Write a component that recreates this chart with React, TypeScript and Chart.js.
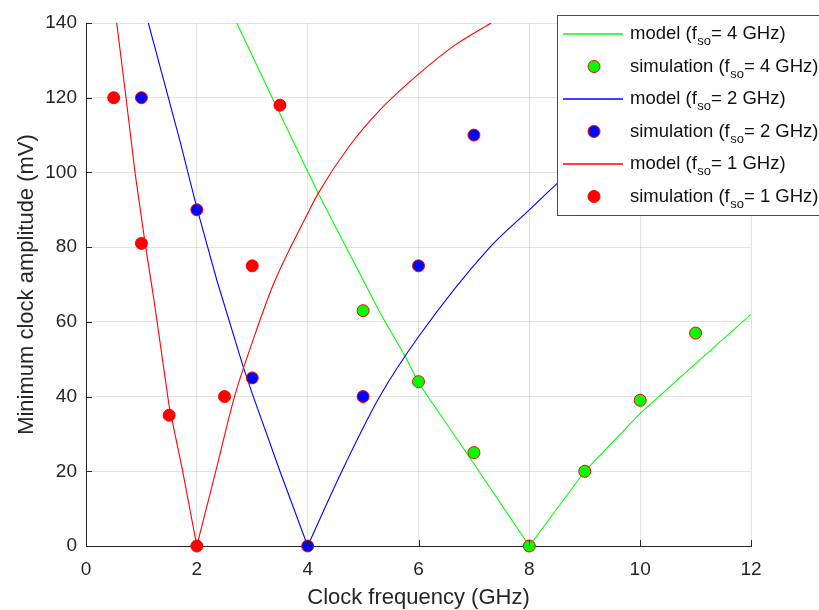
import React, { useEffect, useRef } from "react";
import { Chart, registerables } from "chart.js";

Chart.register(...registerables);

const FONT = '"Liberation Sans", Arial, Helvetica, sans-serif';
const AXIS_COLOR = "#262626";

// Axis ticks
const xTickValues = [0, 2, 4, 6, 8, 10, 12];
const yTickValues = [0, 20, 40, 60, 80, 100, 120, 140];

// Simulation results (clock frequency in GHz, amplitude in mV)
const simFreq4 = [5, 6, 7, 8, 9, 10, 11];
const simAmp4 = [63, 44, 25, 0, 20, 39, 57];
const simFreq2 = [1, 2, 3, 4, 5, 6, 7];
const simAmp2 = [120, 90, 45, 0, 40, 75, 110];
const simFreq1 = [0.5, 1, 1.5, 2, 2.5, 3, 3.5];
const simAmp1 = [120, 81, 35, 0, 40, 75, 118];

// Model curves, each split at its zero into a falling and a rising branch
const model4FallFreq = [2.72, 3.38, 4.19, 5.0, 5.31, 5.77, 6.0, 7.0, 8.0];
const model4FallAmp = [140, 119.4, 94.4, 71.2, 62.3, 50.5, 43.7, 22, 0];
const model4RiseFreq = [8, 9, 10, 11, 12];
const model4RiseAmp = [0, 20, 35.5, 48.8, 62];

const model2FallFreq = [1.125, 1.7, 2.0, 2.36, 2.84, 3.0, 3.5, 4.0];
const model2FallAmp = [140, 108.2, 90.5, 71.2, 47.8, 40.8, 20, 0];
const model2RiseFreq = [4.0, 4.6, 5.28, 6.0, 7.29, 8.0, 8.5, 9.0, 10.0];
const model2RiseAmp = [0, 19.5, 39.5, 56, 80, 90, 97, 103.5, 115];

const model1FallFreq = [0.554, 0.722, 0.884, 1.077, 1.227, 1.5, 1.745, 2.0];
const model1FallAmp = [140, 120, 100, 80, 65.8, 37.5, 20, 0];
const model1RiseFreq = [2.0, 2.35, 2.68, 3.0, 3.38, 4.0, 4.19, 4.75, 5.31, 6.0, 6.65, 7.31];
const model1RiseAmp = [0, 20.5, 40, 54.5, 70, 89, 94.4, 107, 116.8, 126.3, 134, 140];

const GREEN = "#00ff00";
const BLUE = "#0000ff";
const RED = "#ff0000";

// Legend rows: model line or simulation marker for each f_so
const legendKinds = ["line", "marker", "line", "marker", "line", "marker"];
const legendColors = [GREEN, GREEN, BLUE, BLUE, RED, RED];
const legendPrefixes = ["model (f", "simulation (f", "model (f", "simulation (f", "model (f", "simulation (f"];
const legendSuffixes = ["= 4 GHz)", "= 4 GHz)", "= 2 GHz)", "= 2 GHz)", "= 1 GHz)", "= 1 GHz)"];

const toPoints = (xs: number[], ys: number[]) => xs.map((x, i) => ({ x, y: ys[i] }));

const simDataset = (xs: number[], ys: number[], fill: string) => ({
  data: toPoints(xs, ys),
  showLine: false,
  pointRadius: 6,
  pointBackgroundColor: fill,
  pointBorderColor: RED,
  pointBorderWidth: 1,
  clip: false as const,
});

const modelDataset = (xs: number[], ys: number[], color: string, smooth = false) => ({
  data: toPoints(xs, ys),
  showLine: true,
  borderColor: color,
  borderWidth: 1.1,
  pointRadius: 0,
  tension: 0,
  cubicInterpolationMode: smooth ? ("monotone" as const) : ("default" as const),
  fill: false,
});

// Tick marks drawn on the inside of the left and bottom axes
const innerTicksPlugin = {
  id: "innerTicks",
  afterDatasetsDraw(chart: any) {
    const { ctx, chartArea, scales } = chart;
    ctx.save();
    ctx.strokeStyle = AXIS_COLOR;
    ctx.lineWidth = 1;
    ctx.beginPath();
    for (const v of xTickValues) {
      const px = Math.round(scales.x.getPixelForValue(v)) + 0.5;
      ctx.moveTo(px, chartArea.bottom);
      ctx.lineTo(px, chartArea.bottom - 6);
    }
    for (const v of yTickValues) {
      const py = Math.round(scales.y.getPixelForValue(v)) + 0.5;
      ctx.moveTo(chartArea.left, py);
      ctx.lineTo(chartArea.left + 6, py);
    }
    ctx.stroke();
    ctx.restore();
  },
};

// Boxed legend with subscripted labels
const boxLegendPlugin = {
  id: "boxLegend",
  afterDraw(chart: any) {
    const ctx = chart.ctx;
    ctx.save();
    const left = 557.5;
    const top = 15.5;
    const width = 300;
    const height = 200;
    ctx.fillStyle = "#ffffff";
    ctx.fillRect(left, top, width, height);
    ctx.strokeStyle = "#4a4a4a";
    ctx.lineWidth = 1;
    ctx.strokeRect(left, top, width, height);

    const mainFont = `18.5px ${FONT}`;
    const subFont = `13px ${FONT}`;
    for (let i = 0; i < legendKinds.length; i++) {
      const rowY = 34 + i * 32.5;
      const color = legendColors[i];
      if (legendKinds[i] === "line") {
        ctx.strokeStyle = color;
        ctx.lineWidth = 1.5;
        ctx.beginPath();
        ctx.moveTo(563, rowY);
        ctx.lineTo(623, rowY);
        ctx.stroke();
      } else {
        ctx.beginPath();
        ctx.arc(594, rowY, 6, 0, Math.PI * 2);
        ctx.fillStyle = color;
        ctx.fill();
        ctx.strokeStyle = RED;
        ctx.lineWidth = 1;
        ctx.stroke();
      }
      ctx.fillStyle = "#111111";
      ctx.textBaseline = "alphabetic";
      ctx.textAlign = "left";
      let tx = 630;
      ctx.font = mainFont;
      ctx.fillText(legendPrefixes[i], tx, rowY + 5);
      tx += ctx.measureText(legendPrefixes[i]).width + 0.5;
      ctx.font = subFont;
      ctx.fillText("so", tx, rowY + 11);
      tx += ctx.measureText("so").width;
      ctx.font = mainFont;
      ctx.fillText(legendSuffixes[i], tx, rowY + 5);
    }
    ctx.restore();
  },
};

export default function App() {
  const canvasRef = useRef<HTMLCanvasElement | null>(null);

  useEffect(() => {
    if (!canvasRef.current) return;
    const chart = new Chart(canvasRef.current, {
      type: "scatter",
      data: {
        datasets: [
          simDataset(simFreq1, simAmp1, RED),
          modelDataset(model1FallFreq, model1FallAmp, RED),
          modelDataset(model1RiseFreq, model1RiseAmp, RED, true),
          simDataset(simFreq2, simAmp2, BLUE),
          modelDataset(model2FallFreq, model2FallAmp, BLUE),
          modelDataset(model2RiseFreq, model2RiseAmp, BLUE, true),
          simDataset(simFreq4, simAmp4, GREEN),
          modelDataset(model4FallFreq, model4FallAmp, GREEN),
          modelDataset(model4RiseFreq, model4RiseAmp, GREEN),
        ] as any,
      },
      options: {
        responsive: false,
        devicePixelRatio: 1,
        animation: false,
        events: [],
        layout: { padding: { left: 0, right: 68, top: 23, bottom: 0 } },
        plugins: {
          legend: { display: false },
          tooltip: { enabled: false },
        },
        scales: {
          x: {
            type: "linear",
            min: 0,
            max: 12,
            afterFit: (scale: any) => {
              scale.height = 64;
            },
            afterBuildTicks: (scale: any) => {
              scale.ticks = xTickValues.map((v) => ({ value: v }));
            },
            ticks: {
              color: AXIS_COLOR,
              font: { family: FONT, size: 19, lineHeight: 1 },
              padding: 14.5,
              maxRotation: 0,
            },
            grid: { color: "rgba(38,38,38,0.13)", lineWidth: 1, drawTicks: false },
            border: { display: true, color: AXIS_COLOR, width: 1 },
            title: {
              display: true,
              text: "Clock frequency (GHz)",
              color: AXIS_COLOR,
              font: { family: FONT, size: 22, lineHeight: 1 },
              padding: { top: 0, bottom: 1 },
            },
          },
          y: {
            type: "linear",
            min: 0,
            max: 140,
            afterFit: (scale: any) => {
              scale.width = 86;
            },
            afterBuildTicks: (scale: any) => {
              scale.ticks = yTickValues.map((v) => ({ value: v }));
            },
            ticks: {
              color: AXIS_COLOR,
              font: { family: FONT, size: 19, lineHeight: 1 },
              padding: 9,
            },
            grid: { color: "rgba(38,38,38,0.13)", lineWidth: 1, drawTicks: false },
            border: { display: true, color: AXIS_COLOR, width: 1 },
            title: {
              display: true,
              text: "Minimum clock amplitude (mV)",
              color: AXIS_COLOR,
              font: { family: FONT, size: 22, lineHeight: 1 },
              padding: { top: 16, bottom: 0 },
            },
          },
        },
      } as any,
      plugins: [innerTicksPlugin, boxLegendPlugin],
    });
    return () => chart.destroy();
  }, []);

  return (
    <div style={{ position: "absolute", left: 0, top: 0, width: 819, height: 610, background: "#ffffff" }}>
      <canvas ref={canvasRef} width={819} height={610} style={{ display: "block" }} />
    </div>
  );
}
